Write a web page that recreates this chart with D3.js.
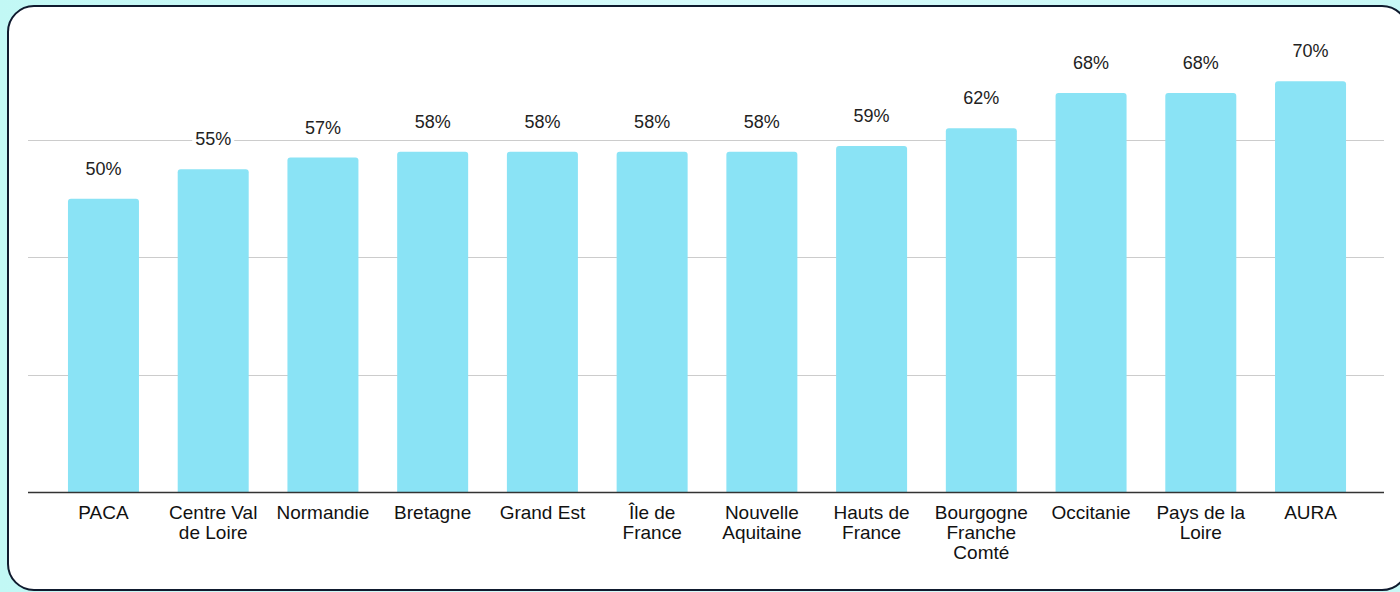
<!DOCTYPE html>
<html><head><meta charset="utf-8">
<script src="https://cdn.jsdelivr.net/npm/d3@7"></script>
<style>
html,body{margin:0;padding:0;}
body{width:1400px;height:592px;overflow:hidden;background:linear-gradient(90deg,#c2f8f5 0%,#d6fbfb 50%,#c8f8f6 100%);}
svg{display:block;}
</style></head><body>
<svg id="c" width="1400" height="592"></svg>
<script>
const categories = ["PACA","Centre Val\nde Loire","Normandie","Bretagne","Grand Est","Île de\nFrance","Nouvelle\nAquitaine","Hauts de\nFrance","Bourgogne\nFranche\nComté","Occitanie","Pays de la\nLoire","AURA"];
const values = [50,55,57,58,58,58,58,59,62,68,68,70];
const gridTicks = [20,40,60];

const svg = d3.select("#c");
svg.append("rect").attr("x",8).attr("y",6).attr("width",1400).attr("height",584)
  .attr("rx",26).attr("ry",26).attr("fill","#fff").attr("stroke","#0f1a2e").attr("stroke-width",2);

const x = d3.scaleBand().domain(categories).range([48.6,1365.4]).paddingInner(0.353).paddingOuter(0.1765);
const y = d3.scaleLinear().domain([0,80]).range([492,492-469.3]);

const g = svg.append("g");
g.selectAll("line.grid").data(gridTicks).join("line").attr("class","grid")
  .attr("x1",28).attr("x2",1384).attr("y1",d=>Math.round(y(d))+0.5).attr("y2",d=>Math.round(y(d))+0.5)
  .attr("stroke","#cccccc").attr("stroke-width",1);

const data = categories.map((c,i)=>({c,v:values[i]}));
const r = 3;
g.selectAll("path.bar").data(data).join("path").attr("class","bar")
  .attr("fill","#8ae3f5")
  .attr("d",d=>{
    const x0=x(d.c), w=x.bandwidth(), y0=y(d.v), y1=y(0);
    return `M${x0},${y1}V${y0+r}Q${x0},${y0} ${x0+r},${y0}H${x0+w-r}Q${x0+w},${y0} ${x0+w},${y0+r}V${y1}Z`;
  });

const lab = g.selectAll("g.vl").data(data).join("g").attr("class","vl")
  .attr("transform",d=>`translate(${x(d.c)+x.bandwidth()/2},${y(d.v)-24})`);
lab.append("rect").attr("x",-21).attr("y",-16).attr("width",42).attr("height",20).attr("fill","#fff");
lab.append("text").attr("text-anchor","middle").attr("font-family","Liberation Sans, Arial, sans-serif")
  .attr("font-size",18).attr("fill","#222").text(d=>d.v+"%");

g.append("line").attr("x1",28).attr("x2",1384).attr("y1",492.5).attr("y2",492.5).attr("stroke","#333").attr("stroke-width",1.5);

const cl = g.selectAll("text.cat").data(data).join("text").attr("class","cat")
  .attr("text-anchor","middle").attr("font-family","Liberation Sans, Arial, sans-serif")
  .attr("font-size",19).attr("fill","#111")
  .attr("transform",d=>`translate(${x(d.c)+x.bandwidth()/2},519)`);
cl.selectAll("tspan").data(d=>d.c.split("\n")).join("tspan")
  .attr("x",0).attr("dy",(d,i)=>i===0?0:20).text(d=>d);
</script></body></html>
